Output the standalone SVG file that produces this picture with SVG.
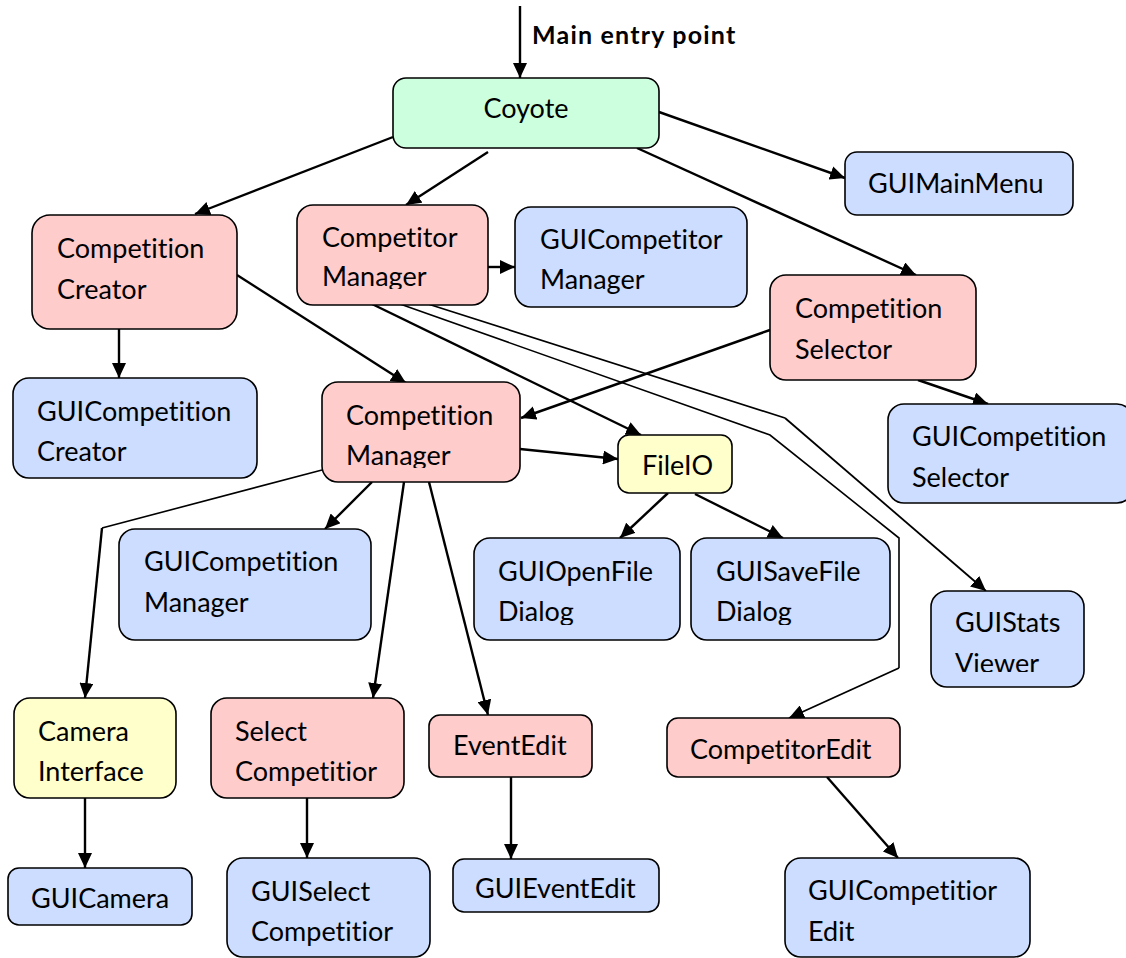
<svg xmlns="http://www.w3.org/2000/svg" width="1126" height="958" viewBox="0 0 1126 958">
  <style>
    .box { stroke: #000; stroke-width: 1.6; }
    .pink { fill: #ffcccc; }
    .blue { fill: #ccddff; }
    .green { fill: #ccffdd; }
    .yellow { fill: #ffffcc; }
    .lbl { font-family: Lato, "Liberation Sans", sans-serif; font-size: 27px; fill: #000; font-variant-ligatures: none; }
    .entry { font-family: Lato, "Liberation Sans", sans-serif; font-size: 25px; font-weight: bold; letter-spacing: 1.2px; fill: #000; font-variant-ligatures: none; }
    .arrow { fill: none; stroke: #000; stroke-width: 2.4; marker-end: url(#head); }
    .route { fill: none; stroke: #000; stroke-width: 1.6; }
    .route-arrow { fill: none; stroke: #000; stroke-width: 1.8; marker-end: url(#head); }
  </style>
  <defs>
    <marker id="head" markerUnits="userSpaceOnUse" markerWidth="16" markerHeight="14" refX="15" refY="7" orient="auto">
      <path d="M0,0 L15,7 L0,14 z" fill="#000"/>
    </marker>
    <clipPath id="clipCompetitorMgr"><rect x="296" y="204" width="193" height="85"/></clipPath>
    <clipPath id="clipCompetitionMgr"><rect x="321" y="382" width="200" height="86"/></clipPath>
    <clipPath id="clipOpenFile"><rect x="473" y="538" width="208" height="87"/></clipPath>
    <clipPath id="clipSaveFile"><rect x="690" y="538" width="200" height="87"/></clipPath>
    <clipPath id="clipStats"><rect x="930" y="591" width="155" height="81"/></clipPath>
  </defs>

  <!-- connectors -->
  <g id="connectors">
    <line class="arrow" x1="520" y1="6" x2="520" y2="78"/>
    <line class="arrow" x1="393" y1="137" x2="195" y2="214"/>
    <line class="arrow" x1="488" y1="152" x2="406" y2="205"/>
    <line class="arrow" x1="659" y1="112" x2="845" y2="178"/>
    <line class="arrow" x1="637" y1="148" x2="916" y2="275"/>
    <line class="arrow" x1="488" y1="267" x2="515" y2="267"/>
    <line class="arrow" x1="119" y1="329" x2="119" y2="378"/>
    <line class="arrow" x1="237" y1="275" x2="406" y2="383"/>
    <line class="arrow" x1="770" y1="330" x2="521" y2="418"/>
    <line class="arrow" x1="918" y1="380" x2="988" y2="404"/>
    <line class="arrow" x1="372" y1="304" x2="641" y2="435"/>
    <polyline class="route" points="400,304 770,435 899,538 899,668"/>
    <line class="route-arrow" x1="899" y1="668" x2="789" y2="718"/>
    <polyline class="route" points="428,304 785,418"/>
    <line class="route-arrow" x1="785" y1="418" x2="986" y2="591"/>
    <line class="arrow" x1="520" y1="449" x2="618" y2="459"/>
    <line class="arrow" x1="668" y1="493" x2="620" y2="538"/>
    <line class="arrow" x1="695" y1="494" x2="783" y2="538"/>
    <polyline class="route" points="322,470 102,528"/>
    <line class="arrow" x1="102" y1="528" x2="85" y2="698"/>
    <line class="arrow" x1="372" y1="482" x2="325" y2="529"/>
    <line class="arrow" x1="404" y1="482" x2="373" y2="698"/>
    <line class="arrow" x1="429" y1="482" x2="488" y2="715"/>
    <line class="arrow" x1="85" y1="798" x2="85" y2="868"/>
    <line class="arrow" x1="307" y1="798" x2="307" y2="858"/>
    <line class="arrow" x1="511" y1="777" x2="511" y2="859"/>
    <line class="arrow" x1="827" y1="777" x2="898" y2="858"/>
  </g>

  <text class="entry" x="532" y="44">Main entry point</text>

  <g id="coyote">
    <rect class="box green" x="393" y="78" width="266" height="70" rx="13"/>
    <text class="lbl" x="526" y="118" text-anchor="middle">Coyote</text>
  </g>

  <g id="gui-main-menu">
    <rect class="box blue" x="845" y="152" width="228" height="63" rx="12"/>
    <text class="lbl" x="868" y="193">GUIMainMenu</text>
  </g>

  <g id="competition-creator">
    <rect class="box pink" x="32" y="215" width="205" height="114" rx="18"/>
    <text class="lbl" x="57" y="258">Competition</text>
    <text class="lbl" x="57" y="299">Creator</text>
  </g>

  <g id="competitor-manager">
    <rect class="box pink" x="297" y="205" width="191" height="100" rx="16"/>
    <g clip-path="url(#clipCompetitorMgr)">
      <text class="lbl" x="322" y="247">Competitor</text>
      <text class="lbl" x="322" y="286">Manager</text>
    </g>
  </g>

  <g id="gui-competitor-manager">
    <rect class="box blue" x="515" y="207" width="232" height="100" rx="16"/>
    <text class="lbl" x="540" y="249">GUICompetitor</text>
    <text class="lbl" x="540" y="289">Manager</text>
  </g>

  <g id="competition-selector">
    <rect class="box pink" x="770" y="275" width="206" height="105" rx="16"/>
    <text class="lbl" x="795" y="318">Competition</text>
    <text class="lbl" x="795" y="359">Selector</text>
  </g>

  <g id="gui-competition-creator">
    <rect class="box blue" x="13" y="378" width="244" height="100" rx="16"/>
    <text class="lbl" x="37" y="421">GUICompetition</text>
    <text class="lbl" x="37" y="461">Creator</text>
  </g>

  <g id="competition-manager">
    <rect class="box pink" x="322" y="382" width="198" height="100" rx="16"/>
    <g clip-path="url(#clipCompetitionMgr)">
      <text class="lbl" x="346" y="425">Competition</text>
      <text class="lbl" x="346" y="465">Manager</text>
    </g>
  </g>

  <g id="gui-competition-selector">
    <rect class="box blue" x="888" y="404" width="245" height="99" rx="16"/>
    <text class="lbl" x="912" y="446">GUICompetition</text>
    <text class="lbl" x="912" y="487">Selector</text>
  </g>

  <g id="file-io">
    <rect class="box yellow" x="618" y="435" width="114" height="58" rx="11"/>
    <text class="lbl" x="642" y="475">FileIO</text>
  </g>

  <g id="gui-competition-manager">
    <rect class="box blue" x="119" y="529" width="252" height="111" rx="16"/>
    <text class="lbl" x="144" y="571">GUICompetition</text>
    <text class="lbl" x="144" y="612">Manager</text>
  </g>

  <g id="gui-open-file-dialog">
    <rect class="box blue" x="474" y="538" width="206" height="102" rx="16"/>
    <g clip-path="url(#clipOpenFile)">
      <text class="lbl" x="498" y="581">GUIOpenFile</text>
      <text class="lbl" x="498" y="621">Dialog</text>
    </g>
  </g>

  <g id="gui-save-file-dialog">
    <rect class="box blue" x="691" y="538" width="199" height="102" rx="16"/>
    <g clip-path="url(#clipSaveFile)">
      <text class="lbl" x="716" y="581">GUISaveFile</text>
      <text class="lbl" x="716" y="621">Dialog</text>
    </g>
  </g>

  <g id="gui-stats-viewer">
    <rect class="box blue" x="931" y="591" width="153" height="96" rx="16"/>
    <g clip-path="url(#clipStats)">
      <text class="lbl" x="955" y="632">GUIStats</text>
      <text class="lbl" x="955" y="673">Viewer</text>
    </g>
  </g>

  <g id="camera-interface">
    <rect class="box yellow" x="14" y="698" width="162" height="100" rx="16"/>
    <text class="lbl" x="38" y="741">Camera</text>
    <text class="lbl" x="38" y="781">Interface</text>
  </g>

  <g id="select-competitior">
    <rect class="box pink" x="211" y="698" width="193" height="100" rx="16"/>
    <text class="lbl" x="235" y="741">Select</text>
    <text class="lbl" x="235" y="781">Competitior</text>
  </g>

  <g id="event-edit">
    <rect class="box pink" x="429" y="715" width="163" height="62" rx="11"/>
    <text class="lbl" x="453" y="755">EventEdit</text>
  </g>

  <g id="competitor-edit">
    <rect class="box pink" x="667" y="718" width="233" height="59" rx="11"/>
    <text class="lbl" x="690" y="759">CompetitorEdit</text>
  </g>

  <g id="gui-camera">
    <rect class="box blue" x="8" y="868" width="184" height="57" rx="11"/>
    <text class="lbl" x="31" y="908">GUICamera</text>
  </g>

  <g id="gui-select-competitior">
    <rect class="box blue" x="227" y="858" width="203" height="99" rx="16"/>
    <text class="lbl" x="251" y="901">GUISelect</text>
    <text class="lbl" x="251" y="941">Competitior</text>
  </g>

  <g id="gui-event-edit">
    <rect class="box blue" x="453" y="859" width="206" height="53" rx="11"/>
    <text class="lbl" x="475" y="898">GUIEventEdit</text>
  </g>

  <g id="gui-competitior-edit">
    <rect class="box blue" x="785" y="858" width="245" height="99" rx="16"/>
    <text class="lbl" x="808" y="900">GUICompetitior</text>
    <text class="lbl" x="808" y="941">Edit</text>
  </g>
</svg>
